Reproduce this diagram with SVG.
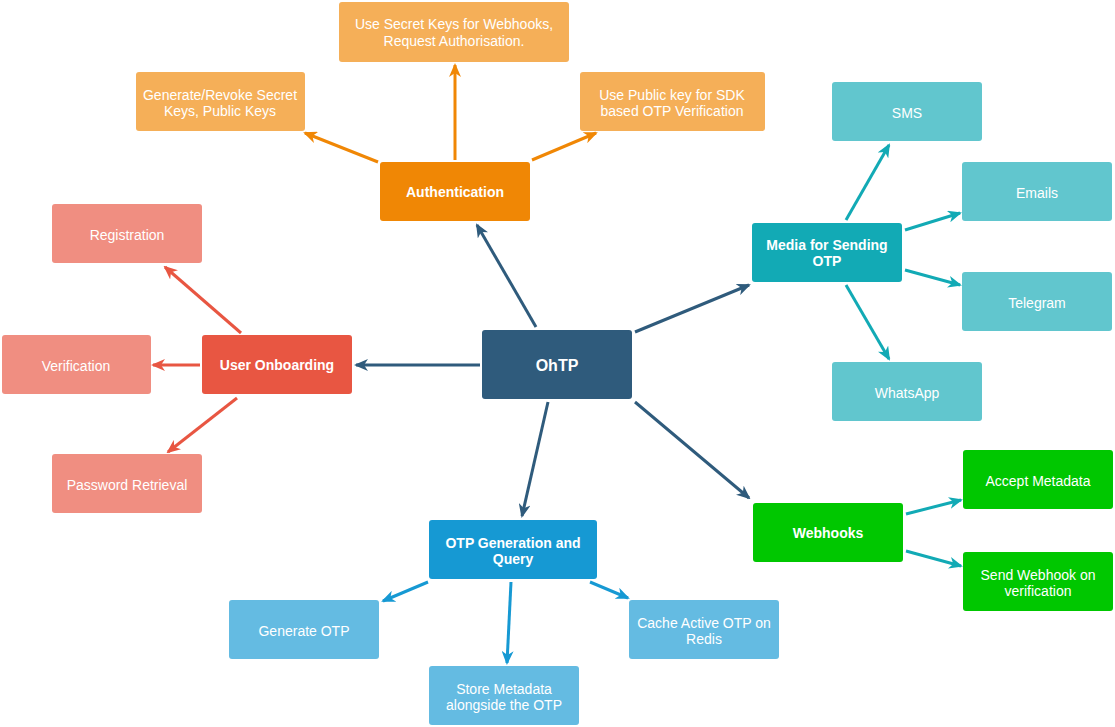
<svg xmlns="http://www.w3.org/2000/svg" width="1115" height="727" viewBox="0 0 1115 727">
<defs>
<style>
text{font-family:"Liberation Sans",Arial,sans-serif;font-size:14px;fill:#fff;text-anchor:middle}
.b{font-weight:bold}
.big{font-size:16px}
.c line{stroke-width:3;fill:none}
.dk{stroke:#2F5B7C}.or{stroke:#F08705}.rd{stroke:#E85642}.tl{stroke:#12AAB5}.bl{stroke:#1699D3}
</style>
<marker id="aDk" viewBox="0 0 14 12" markerWidth="14" markerHeight="12" refX="12" refY="6" orient="auto" markerUnits="userSpaceOnUse"><path d="M0,0 L14,6 L0,12 L4,6 z" fill="#2F5B7C"/></marker>
<marker id="aOr" viewBox="0 0 14 12" markerWidth="14" markerHeight="12" refX="12" refY="6" orient="auto" markerUnits="userSpaceOnUse"><path d="M0,0 L14,6 L0,12 L4,6 z" fill="#F08705"/></marker>
<marker id="aRd" viewBox="0 0 14 12" markerWidth="14" markerHeight="12" refX="12" refY="6" orient="auto" markerUnits="userSpaceOnUse"><path d="M0,0 L14,6 L0,12 L4,6 z" fill="#E85642"/></marker>
<marker id="aTl" viewBox="0 0 14 12" markerWidth="14" markerHeight="12" refX="12" refY="6" orient="auto" markerUnits="userSpaceOnUse"><path d="M0,0 L14,6 L0,12 L4,6 z" fill="#12AAB5"/></marker>
<marker id="aBl" viewBox="0 0 14 12" markerWidth="14" markerHeight="12" refX="12" refY="6" orient="auto" markerUnits="userSpaceOnUse"><path d="M0,0 L14,6 L0,12 L4,6 z" fill="#1699D3"/></marker>
</defs>
<rect width="1115" height="727" fill="#fff"/>
<g id="connectors" class="c">
<line class="dk" x1="536" y1="327" x2="477" y2="225" marker-end="url(#aDk)"/>
<line class="dk" x1="480" y1="365" x2="356" y2="365" marker-end="url(#aDk)"/>
<line class="dk" x1="635" y1="332" x2="749" y2="285" marker-end="url(#aDk)"/>
<line class="dk" x1="635" y1="402" x2="749" y2="498" marker-end="url(#aDk)"/>
<line class="dk" x1="548" y1="402" x2="522" y2="516" marker-end="url(#aDk)"/>
<line class="or" x1="378" y1="162" x2="305" y2="133" marker-end="url(#aOr)"/>
<line class="or" x1="455" y1="160" x2="455" y2="65" marker-end="url(#aOr)"/>
<line class="or" x1="532" y1="160" x2="596" y2="133" marker-end="url(#aOr)"/>
<line class="rd" x1="241" y1="333" x2="165" y2="267" marker-end="url(#aRd)"/>
<line class="rd" x1="200" y1="365" x2="153" y2="365" marker-end="url(#aRd)"/>
<line class="rd" x1="237" y1="398" x2="168" y2="452" marker-end="url(#aRd)"/>
<line class="tl" x1="846" y1="220" x2="889" y2="145" marker-end="url(#aTl)"/>
<line class="tl" x1="905" y1="230" x2="960" y2="213" marker-end="url(#aTl)"/>
<line class="tl" x1="905" y1="270" x2="960" y2="285" marker-end="url(#aTl)"/>
<line class="tl" x1="846" y1="285" x2="889" y2="359" marker-end="url(#aTl)"/>
<line class="tl" x1="906" y1="514" x2="961" y2="500" marker-end="url(#aTl)"/>
<line class="tl" x1="906" y1="551" x2="961" y2="566" marker-end="url(#aTl)"/>
<line class="bl" x1="428" y1="582" x2="383" y2="601" marker-end="url(#aBl)"/>
<line class="bl" x1="511" y1="582" x2="507" y2="663" marker-end="url(#aBl)"/>
<line class="bl" x1="590" y1="582" x2="628" y2="598" marker-end="url(#aBl)"/>
</g>
<g id="ohtp"><rect x="482" y="330" width="150" height="69" rx="3" fill="#2F5B7C"/><text class="b big" x="557" y="371">OhTP</text></g>
<g id="auth"><rect x="380" y="162" width="150" height="59" rx="3" fill="#F08705"/><text class="b" x="455" y="197">Authentication</text></g>
<g id="secret"><rect x="339" y="2" width="230" height="60" rx="3" fill="#F5AF58"/><text x="454" y="29">Use Secret Keys for Webhooks,</text><text x="454" y="46">Request Authorisation.</text></g>
<g id="genkeys"><rect x="136" y="72" width="169" height="59" rx="3" fill="#F5AF58"/><text x="220" y="100">Generate/Revoke Secret</text><text x="220" y="116">Keys, Public Keys</text></g>
<g id="public"><rect x="580" y="72" width="185" height="59" rx="3" fill="#F5AF58"/><text x="672" y="100">Use Public key for SDK</text><text x="672" y="116">based OTP Verification</text></g>
<g id="onboarding"><rect x="202" y="335" width="150" height="59" rx="3" fill="#E85642"/><text class="b" x="277" y="370">User Onboarding</text></g>
<g id="registration"><rect x="52" y="204" width="150" height="59" rx="3" fill="#F08E81"/><text x="127" y="240">Registration</text></g>
<g id="verification"><rect x="2" y="335" width="149" height="59" rx="3" fill="#F08E81"/><text x="76" y="371">Verification</text></g>
<g id="password"><rect x="52" y="454" width="150" height="59" rx="3" fill="#F08E81"/><text x="127" y="490">Password Retrieval</text></g>
<g id="media"><rect x="752" y="223" width="150" height="59" rx="3" fill="#12AAB5"/><text class="b" x="827" y="250">Media for Sending</text><text class="b" x="827" y="266">OTP</text></g>
<g id="sms"><rect x="832" y="82" width="150" height="59" rx="3" fill="#61C6CE"/><text x="907" y="118">SMS</text></g>
<g id="emails"><rect x="962" y="162" width="150" height="59" rx="3" fill="#61C6CE"/><text x="1037" y="198">Emails</text></g>
<g id="telegram"><rect x="962" y="272" width="150" height="59" rx="3" fill="#61C6CE"/><text x="1037" y="308">Telegram</text></g>
<g id="whatsapp"><rect x="832" y="362" width="150" height="59" rx="3" fill="#61C6CE"/><text x="907" y="398">WhatsApp</text></g>
<g id="webhooks"><rect x="753" y="503" width="150" height="59" rx="3" fill="#00C700"/><text class="b" x="828" y="538">Webhooks</text></g>
<g id="accept"><rect x="963" y="450" width="150" height="59" rx="3" fill="#00C700"/><text x="1038" y="486">Accept Metadata</text></g>
<g id="sendwh"><rect x="963" y="552" width="150" height="59" rx="3" fill="#00C700"/><text x="1038" y="580">Send Webhook on</text><text x="1038" y="596">verification</text></g>
<g id="otpgen"><rect x="429" y="520" width="168" height="59" rx="3" fill="#1699D3"/><text class="b" x="513" y="548">OTP Generation and</text><text class="b" x="513" y="564">Query</text></g>
<g id="genotp"><rect x="229" y="600" width="150" height="59" rx="3" fill="#64BBE2"/><text x="304" y="636">Generate OTP</text></g>
<g id="cache"><rect x="629" y="600" width="150" height="59" rx="3" fill="#64BBE2"/><text x="704" y="628">Cache Active OTP on</text><text x="704" y="644">Redis</text></g>
<g id="store"><rect x="429" y="666" width="150" height="59" rx="3" fill="#64BBE2"/><text x="504" y="694">Store Metadata</text><text x="504" y="710">alongside the OTP</text></g>
</svg>
